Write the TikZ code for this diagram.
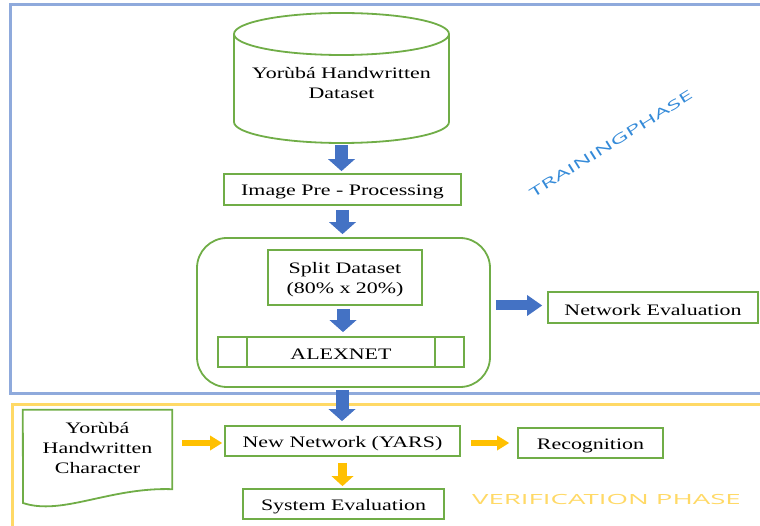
\documentclass[tikz,border=0pt]{standalone}
\usepackage{fontspec}
\setmainfont{Liberation Serif}
\newfontfamily\handfont{Open Sans}
\usetikzlibrary{arrows.meta,calc}
\definecolor{grn}{HTML}{70AD47}
\definecolor{frameblue}{HTML}{8FAADC}
\definecolor{frameyel}{HTML}{FFD966}
\definecolor{arrblue}{HTML}{4472C4}
\definecolor{arrblueedge}{HTML}{3A62A8}
\definecolor{arryel}{HTML}{FFC000}
\definecolor{phaseblue}{HTML}{348AD8}
\definecolor{phaseyel}{HTML}{FFD966}
% wide serif lettering used in all boxes, set slightly below the optical centre
\newcommand{\wide}[1]{\raisebox{-2.5pt}[\height][\depth]{\scalebox{1.37}[1]{#1}}}

\begin{document}
\begin{tikzpicture}[x=1pt,y=-1pt,
  box/.style={draw=grn, line width=1.8pt, inner sep=0pt, align=center,
              font=\fontsize{16}{20}\selectfont},
  ghost/.style={inner sep=0pt, align=center, font=\fontsize{16}{20}\selectfont},
  shape line/.style={draw=grn, line width=1.8pt},
  bdown/.style={draw=arrblue, line width=13pt,
                -{Triangle[width=27pt,length=12pt,line width=0pt]}},
  bright/.style={draw=arrblue, line width=10pt,
                 -{Triangle[width=21pt,length=15pt,line width=0pt]}},
  ydown/.style={draw=arryel, line width=9pt,
                -{Triangle[width=22pt,length=10pt,line width=0pt]}},
  yright/.style={draw=arryel, line width=6pt,
                 -{Triangle[width=15pt,length=12pt,line width=0pt]}},
  phase/.style={inner sep=0pt}
]
\useasboundingbox (0,0) rectangle (760,526);
\clip (0,0) rectangle (760,526);

% phase frames
\draw[frameblue, line width=3pt] (10,5) rectangle (800,393);
\draw[frameyel, line width=3pt] (12,404) rectangle (800,560);

% dataset cylinder
\node[ghost, minimum width=215pt, minimum height=130pt] (data) at (341.5,78) {};
\draw[shape line] (234,34) -- (234,122)
  arc[start angle=180, end angle=0, x radius=107.5, y radius=21] -- (449,34);
\draw[shape line] (341.5,34) ellipse[x radius=107.5, y radius=21];
\node[ghost] (datatext) at (341.5,81) {\wide{Yorùbá Handwritten}\\\wide{Dataset}};

% training pipeline
\node[box, minimum width=237pt, minimum height=31pt] (pre) at (342.5,189.5)
  {\wide{Image Pre - Processing}};
\node[draw=grn, line width=1.8pt, rounded corners=30pt, minimum width=293pt,
      minimum height=149pt] (cont) at (343.5,312.5) {};
\node[box, minimum width=154pt, minimum height=55pt] (split) at (345,277.5)
  {\wide{Split Dataset}\\\wide{(80\% x 20\%)}};
\node[box, minimum width=246pt, minimum height=30pt] (alex) at (341,352)
  {\wide{ALEXNET}};
\draw[shape line] ($(alex.north west)+(30,0)$) -- ($(alex.south west)+(30,0)$);
\draw[shape line] ($(alex.north east)+(-30,0)$) -- ($(alex.south east)+(-30,0)$);
\node[box, minimum width=210pt, minimum height=31pt] (neteval) at (653,307.5)
  {\wide{Network Evaluation}};

% verification stage
\node[ghost, minimum width=149pt, minimum height=79pt] (char) at (97.5,449.5) {};
\draw[shape line] (char.north west) -- (char.north east) -- (char.south east)
  .. controls (110,487) and (62,516) .. (23,503) -- cycle;
\node[ghost] (chartext) at (97.5,446) 
  {\wide{Yorùbá}\\\wide{Handwritten}\\\wide{Character}};
\node[box, minimum width=235pt, minimum height=30pt] (yars) at (342.5,441)
  {\wide{New Network (YARS)}};
\node[box, minimum width=145pt, minimum height=30pt] (recog) at (590.5,443)
  {\wide{Recognition}};
\node[box, minimum width=201pt, minimum height=30pt] (syseval) at (343.5,504)
  {\wide{System Evaluation}};

% connectors
\draw[bdown] ($(data.south)+(0,2)$) -- ($(data.south |- pre.north)+(0,-2)$);
\draw[bdown] ($(pre.south)+(0,4)$) -- ($(pre.south |- cont.north)+(0,-3)$);
\draw[bdown] ($(split.south)+(-2,3)$) -- ($(split.south |- alex.north)+(-2,-4)$);
\draw[bdown] ($(cont.south)+(-1.5,2)$) -- ($(cont.south |- yars.north)+(-1.5,-4)$);
\draw[bright] ($(cont.east |- neteval.west)+(5,-2)$) -- ($(neteval.west)+(-5,-2)$);
\draw[yright] ($(char.east |- yars.west)+(10,2)$) -- ($(yars.west)+(-2,2)$);
\draw[yright] ($(yars.east)+(10,2)$) -- ($(yars.east -| recog.west)+(-8,2)$);
\draw[ydown] ($(yars.south)+(0,6)$) -- ($(yars.south |- syseval.north)+(0,-2)$);

% phase labels
\node[phase, text=phaseblue, rotate=32, font=\handfont\fontsize{13}{13}\selectfont]
  (trainlbl) at (611,144) {\scalebox{1.9}[1]{TRAININGPHASE}};
\node[phase, text=phaseyel, font=\handfont\fontsize{14}{14}\selectfont]
  (verlbl) at (606.5,499) {\scalebox{1.97}[1]{VERIFICATION PHASE}};
\end{tikzpicture}
\end{document}
